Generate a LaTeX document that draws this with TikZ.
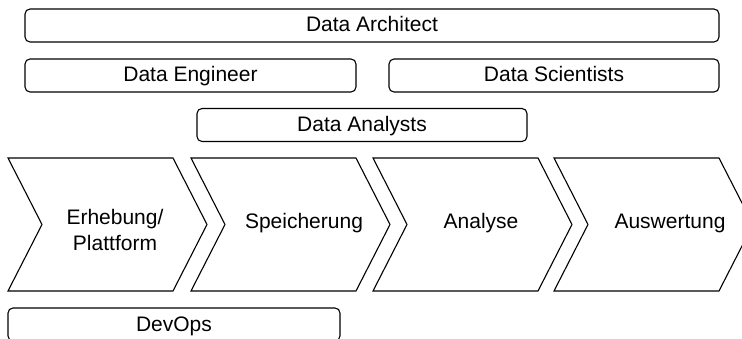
\documentclass[tikz,border=0pt]{standalone}
\usepackage{fontspec}
\setmainfont{Liberation Sans}
\begin{document}
\begin{tikzpicture}[x=1pt,y=-1pt,
  every node/.style={font=\fontsize{21}{26}\selectfont, align=center, inner sep=0pt},
  oneline/.style={text height=15pt, text depth=2pt},
  rolebox/.style={draw, line width=1.1pt, rounded corners=5pt, minimum height=33pt, oneline},
  stage/.style={draw, line width=1.1pt, line join=miter}]
\useasboundingbox (0,0) rectangle (742,339);
\clip (0,0) rectangle (742,339);

% roles
\node[rolebox, minimum width=694pt] (arch) at (372,25.5) {Data Architect};
\node[rolebox, minimum width=331pt] (eng) at (190.5,75.5) {Data Engineer};
\node[rolebox, minimum width=330pt] (sci) at (554,75.5) {Data Scientists};
\node[rolebox, minimum width=330pt] (ana) at (362,125) {Data Analysts};
\node[rolebox, minimum width=332pt] (dev) at (174,324.5) {DevOps};

% process chevrons: left top x, depth 34, from y=158 to y=291
\foreach \x/\n in {8/s1, 191/s2, 373/s3, 554/s4}{
  \draw[stage] (\x,158) -- ++(165,0) -- ++(34,66.5) -- ++(-34,66.5)
    -- ++(-165,0) -- ++(34,-66.5) -- cycle;
}
\node (t1) at (115,230) {Erhebung/\\Plattform};
\node[oneline] (t2) at (304,222) {Speicherung};
\node[oneline] (t3) at (481,222) {Analyse};
\node[oneline] (t4) at (670,222) {Auswertung};
\end{tikzpicture}
\end{document}
